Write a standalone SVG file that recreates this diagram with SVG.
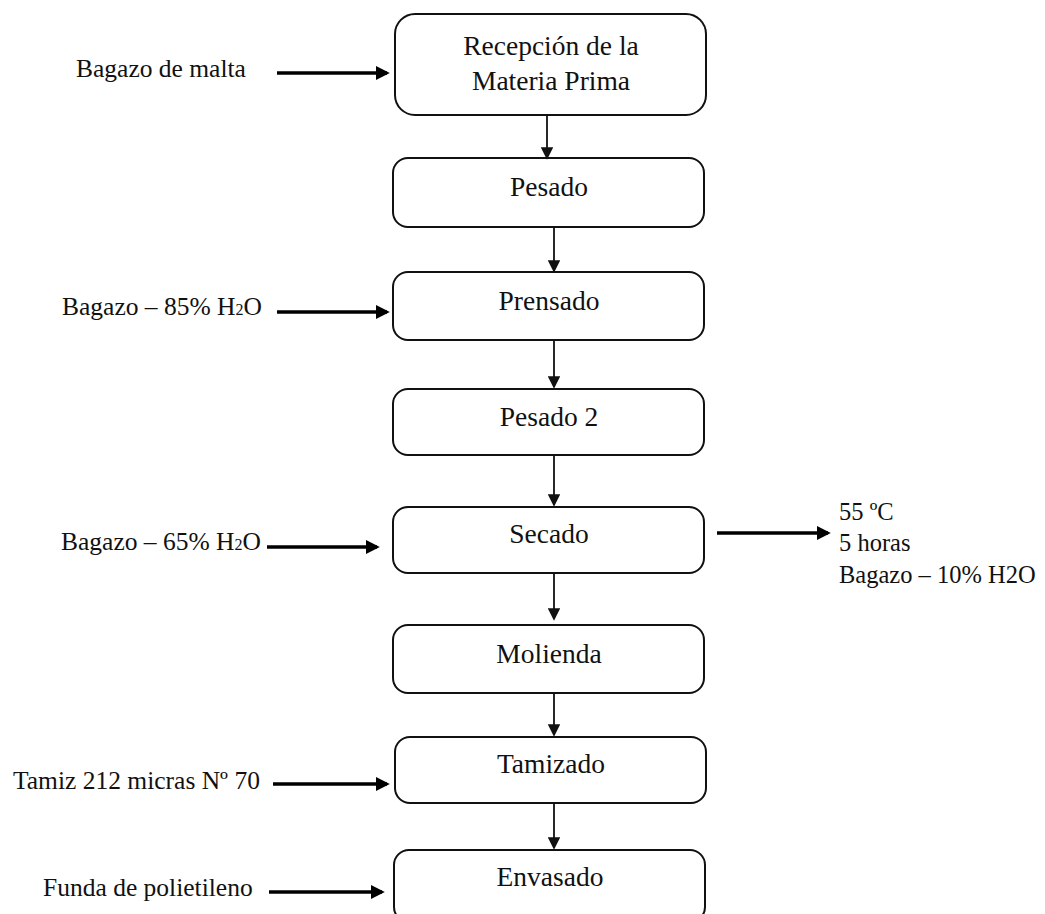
<svg xmlns="http://www.w3.org/2000/svg" width="1045" height="914" viewBox="0 0 1045 914">
<style>
.box{fill:#fff;stroke:#111;stroke-width:2}
.t{font-family:"Liberation Serif","Times New Roman",serif;font-size:27.5px;fill:#111;text-anchor:middle}
.l{font-family:"Liberation Serif","Times New Roman",serif;font-size:25.5px;fill:#111}
.r{font-family:"Liberation Serif","Times New Roman",serif;font-size:24.5px;fill:#111}
.thick{stroke:#000;stroke-width:3.5;fill:none}
.thin{stroke:#111;stroke-width:1.8;fill:none}
</style>
<defs>
<marker id="ah" markerWidth="4" markerHeight="4" refX="3.2" refY="2" orient="auto" markerUnits="strokeWidth" viewBox="0 0 4 4"><path d="M0,0 L4,2 L0,4 Z" fill="#000"/></marker>
<marker id="ah2" markerWidth="7" markerHeight="7" refX="6" refY="3.5" orient="auto" markerUnits="strokeWidth" viewBox="0 0 7 7"><path d="M0,0 L7,3.5 L0,7 Z" fill="#111"/></marker>
</defs>
<rect width="1045" height="914" fill="#fff"/>
<g id="n1"><rect class="box" x="395" y="14" width="311" height="101" rx="20"/><text class="t" x="551" y="55">Recepción de la</text><text class="t" x="551" y="90">Materia Prima</text></g>
<g id="n2"><rect class="box" x="393" y="158" width="311" height="69" rx="15"/><text class="t" x="549" y="196">Pesado</text></g>
<g id="n3"><rect class="box" x="393" y="272" width="311" height="68" rx="15"/><text class="t" x="549" y="310">Prensado</text></g>
<g id="n4"><rect class="box" x="393" y="389" width="311" height="66" rx="15"/><text class="t" x="549" y="426">Pesado 2</text></g>
<g id="n5"><rect class="box" x="393" y="507" width="311" height="66" rx="15"/><text class="t" x="549" y="543">Secado</text></g>
<g id="n6"><rect class="box" x="393" y="625" width="311" height="68" rx="15"/><text class="t" x="549" y="663">Molienda</text></g>
<g id="n7"><rect class="box" x="395" y="737" width="311" height="66" rx="15"/><text class="t" x="551" y="773">Tamizado</text></g>
<g id="n8"><rect class="box" x="394" y="850" width="311" height="72" rx="15"/><text class="t" x="550" y="886">Envasado</text></g>
<g id="labels">
<text class="l" x="76" y="77">Bagazo de malta</text>
<text class="l" x="62" y="315">Bagazo – 85% H<tspan font-size="16">2</tspan>O</text>
<text class="l" x="61" y="550">Bagazo – 65% H<tspan font-size="16">2</tspan>O</text>
<text class="l" x="13" y="789">Tamiz 212 micras Nº 70</text>
<text class="l" x="43" y="896">Funda de polietileno</text>
<text class="r" x="839" y="520">55 ºC</text>
<text class="r" x="839" y="551">5 horas</text>
<text class="r" x="839" y="583">Bagazo – 10% H2O</text>
</g>
<g id="connectors">
<line class="thick" x1="277" y1="73" x2="387" y2="73" marker-end="url(#ah)"/>
<line class="thick" x1="277" y1="312" x2="387" y2="312" marker-end="url(#ah)"/>
<line class="thick" x1="267" y1="547" x2="377" y2="547" marker-end="url(#ah)"/>
<line class="thick" x1="273" y1="784" x2="387" y2="784" marker-end="url(#ah)"/>
<line class="thick" x1="269" y1="892" x2="382" y2="892" marker-end="url(#ah)"/>
<line class="thick" x1="717" y1="533" x2="828" y2="533" marker-end="url(#ah)"/>
<line class="thin" x1="547" y1="115" x2="547" y2="158" marker-end="url(#ah2)"/>
<line class="thin" x1="554" y1="228" x2="554" y2="271" marker-end="url(#ah2)"/>
<line class="thin" x1="554" y1="341" x2="554" y2="387" marker-end="url(#ah2)"/>
<line class="thin" x1="554" y1="456" x2="554" y2="505" marker-end="url(#ah2)"/>
<line class="thin" x1="554" y1="574" x2="554" y2="619" marker-end="url(#ah2)"/>
<line class="thin" x1="554" y1="694" x2="554" y2="735" marker-end="url(#ah2)"/>
<line class="thin" x1="554" y1="804" x2="554" y2="848" marker-end="url(#ah2)"/>
</g>
</svg>
